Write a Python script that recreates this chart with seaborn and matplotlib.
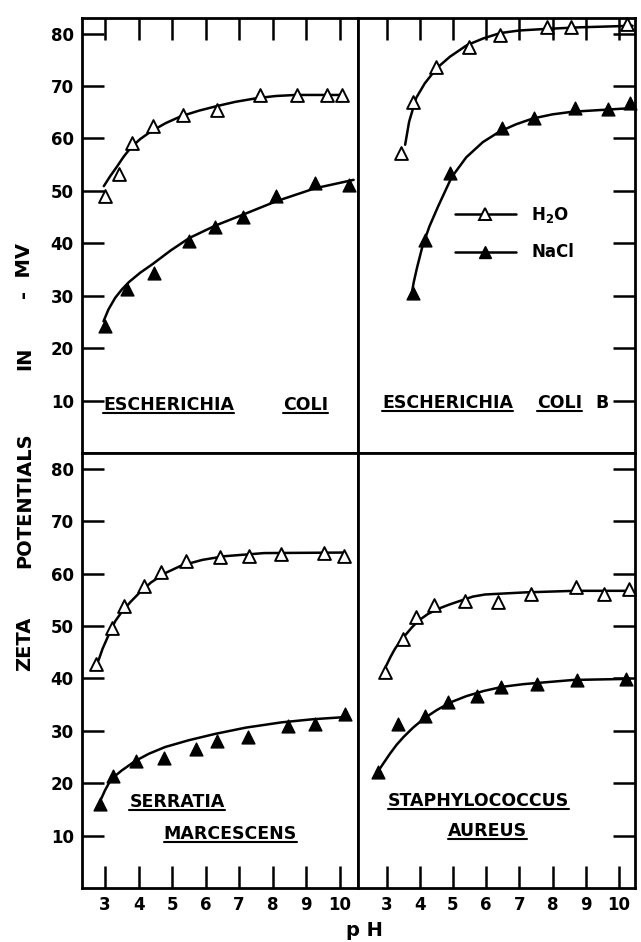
#%%
import matplotlib
matplotlib.use('Agg')
import pandas as pd
import seaborn as sns
import matplotlib.pyplot as plt
from matplotlib.lines import Line2D

ecoli_h2o_ph = [3.0, 3.41, 3.80, 4.42, 5.33, 6.33, 7.62, 8.72, 9.61, 10.08]
ecoli_h2o_mv = [49.0, 53.3, 59.1, 62.3, 64.5, 65.4, 68.2, 68.2, 68.2, 68.2]
ecoli_nacl_ph = [3.01, 3.65, 4.47, 5.50, 6.27, 7.13, 8.11, 9.28, 10.27]
ecoli_nacl_mv = [24.2, 31.2, 34.3, 40.4, 43.1, 45.1, 49.0, 51.5, 51.2]

ecolib_h2o_ph = [3.45, 3.79, 4.49, 5.47, 6.42, 7.83, 8.55, 10.24]
ecolib_h2o_mv = [57.2, 67.0, 73.7, 77.5, 79.7, 81.3, 81.3, 81.8]
ecolib_nacl_ph = [3.79, 4.16, 4.91, 6.47, 7.44, 8.68, 9.68, 10.32]
ecolib_nacl_mv = [30.5, 40.7, 53.4, 62.0, 63.9, 65.8, 65.6, 66.7]

serratia_h2o_ph = [2.74, 3.21, 3.56, 4.17, 4.67, 5.42, 6.44, 7.30, 8.24, 9.53, 10.13]
serratia_h2o_mv = [42.7, 49.7, 53.8, 57.7, 60.2, 62.3, 63.1, 63.4, 63.7, 64.0, 63.4]
serratia_nacl_ph = [2.86, 3.24, 3.91, 4.76, 5.71, 6.33, 7.26, 8.45, 9.28, 10.15]
serratia_nacl_mv = [16.0, 21.4, 24.3, 24.9, 26.5, 28.1, 28.8, 31.0, 31.3, 33.2]

staph_h2o_ph = [2.94, 3.50, 3.88, 4.42, 5.37, 6.35, 7.36, 8.70, 9.56, 10.29]
staph_h2o_mv = [41.2, 47.5, 51.7, 53.9, 54.8, 54.5, 56.1, 57.4, 56.1, 57.1]
staph_nacl_ph = [2.74, 3.36, 4.17, 4.85, 5.73, 6.45, 7.53, 8.73, 10.21]
staph_nacl_mv = [22.1, 31.3, 32.9, 35.4, 36.7, 38.3, 38.9, 39.6, 39.9]

#%% hand drawn fit curves
ecoli_h2o_fit_ph = [2.96, 3.15, 3.35, 3.55, 3.76, 4.05, 4.36, 4.8, 5.25, 5.8, 6.35, 6.9, 7.54, 8.1, 8.69, 10.12]
ecoli_h2o_fit_mv = [50.9, 52.8, 54.6, 56.5, 58.2, 59.9, 61.3, 62.9, 64.2, 65.3, 66.2, 67.0, 67.7, 68.1, 68.3, 68.3]
ecoli_nacl_fit_ph = [2.95, 3.1, 3.30, 3.5, 3.71, 4.05, 4.41, 4.95, 5.51, 6.3, 7.13, 8.10, 9.27, 10.42]
ecoli_nacl_fit_mv = [25.1, 27.4, 29.6, 31.2, 32.6, 34.4, 36.0, 38.6, 41.0, 43.4, 45.5, 48.0, 50.5, 52.1]

ecolib_h2o_fit_ph = [3.56, 3.68, 3.89, 4.15, 4.51, 4.91, 5.42, 5.92, 6.42, 7.0, 7.81, 8.8, 10.41]
ecolib_h2o_fit_mv = [58.8, 63.2, 67.7, 70.5, 73.4, 75.6, 77.8, 79.1, 80.1, 80.6, 80.9, 81.2, 81.5]
ecolib_nacl_fit_ph = [3.76, 3.82, 3.92, 4.08, 4.29, 4.55, 4.96, 5.40, 5.90, 6.40, 6.9, 7.40, 8.0, 8.60, 10.41]
ecolib_nacl_fit_mv = [30.5, 32.6, 35.4, 39.4, 43.2, 47.0, 52.6, 56.4, 59.3, 61.3, 62.7, 63.8, 64.6, 65.1, 65.8]

serratia_h2o_fit_ph = [2.80, 2.92, 3.05, 3.18, 3.31, 3.52, 3.76, 4.05, 4.37, 4.8, 5.27, 5.9, 6.56, 7.75, 10.13]
serratia_h2o_fit_mv = [43.4, 45.6, 47.5, 49.4, 51.0, 52.9, 54.6, 56.5, 58.3, 60.1, 61.5, 62.6, 63.3, 63.9, 64.0]
serratia_nacl_fit_ph = [2.88, 3.0, 3.13, 3.3, 3.49, 3.89, 4.3, 4.79, 5.5, 6.28, 7.2, 8.26, 9.2, 10.14]
serratia_nacl_fit_mv = [17.0, 18.7, 20.2, 21.4, 22.4, 24.2, 25.6, 26.9, 28.2, 29.4, 30.6, 31.6, 32.2, 32.6]

staph_h2o_fit_ph = [2.99, 3.12, 3.25, 3.4, 3.56, 3.76, 3.96, 4.25, 4.57, 4.9, 5.27, 5.6, 5.97, 7.17, 8.67, 10.37]
staph_h2o_fit_mv = [42.4, 44.1, 45.6, 47.0, 48.2, 49.7, 51.0, 52.3, 53.3, 54.1, 54.9, 55.6, 56.0, 56.4, 56.7, 56.7]
staph_nacl_fit_ph = [2.79, 2.95, 3.10, 3.3, 3.51, 3.8, 4.12, 4.5, 4.92, 5.4, 5.93, 6.5, 7.13, 8.63, 10.33]
staph_nacl_fit_mv = [22.7, 24.2, 25.6, 27.3, 28.8, 30.6, 32.3, 33.9, 35.4, 36.6, 37.6, 38.4, 38.9, 39.7, 39.9]

panel_keys = ['ecoli', 'ecolib', 'serratia', 'staph']
x_ticks = [3, 4, 5, 6, 7, 8, 9, 10]
y_ticks = [10, 20, 30, 40, 50, 60, 70, 80]

#%% long tables
def make_df(pairs):
    rows = []
    for key, medium, xs, ys in pairs:
        for x, y in zip(xs, ys):
            rows.append({'panel': key, 'medium': medium, 'ph': x, 'mv': y})
    return pd.DataFrame(rows)

points = make_df([
    ('ecoli', 'H2O', ecoli_h2o_ph, ecoli_h2o_mv),
    ('ecoli', 'NaCl', ecoli_nacl_ph, ecoli_nacl_mv),
    ('ecolib', 'H2O', ecolib_h2o_ph, ecolib_h2o_mv),
    ('ecolib', 'NaCl', ecolib_nacl_ph, ecolib_nacl_mv),
    ('serratia', 'H2O', serratia_h2o_ph, serratia_h2o_mv),
    ('serratia', 'NaCl', serratia_nacl_ph, serratia_nacl_mv),
    ('staph', 'H2O', staph_h2o_ph, staph_h2o_mv),
    ('staph', 'NaCl', staph_nacl_ph, staph_nacl_mv),
])
curves = make_df([
    ('ecoli', 'H2O', ecoli_h2o_fit_ph, ecoli_h2o_fit_mv),
    ('ecoli', 'NaCl', ecoli_nacl_fit_ph, ecoli_nacl_fit_mv),
    ('ecolib', 'H2O', ecolib_h2o_fit_ph, ecolib_h2o_fit_mv),
    ('ecolib', 'NaCl', ecolib_nacl_fit_ph, ecolib_nacl_fit_mv),
    ('serratia', 'H2O', serratia_h2o_fit_ph, serratia_h2o_fit_mv),
    ('serratia', 'NaCl', serratia_nacl_fit_ph, serratia_nacl_fit_mv),
    ('staph', 'H2O', staph_h2o_fit_ph, staph_h2o_fit_mv),
    ('staph', 'NaCl', staph_nacl_fit_ph, staph_nacl_fit_mv),
])

#%% plot
sns.set_style('ticks')
plt.rcParams['font.family'] = ['DejaVu Sans']
plt.rcParams['font.weight'] = 'bold'
plt.rcParams['mathtext.default'] = 'regular'
plt.rcParams['text.color'] = 'black'
plt.rcParams['xtick.color'] = 'black'
plt.rcParams['ytick.color'] = 'black'
plt.rcParams['axes.edgecolor'] = 'black'

fig, axes = plt.subplots(2, 2, figsize=(6.41, 9.42), dpi=100)
fig.subplots_adjust(left=0.128, right=0.99, top=0.981, bottom=0.0573, wspace=0, hspace=0)

xlims = [(2.31, 10.56), (2.15, 10.47), (2.31, 10.56), (2.15, 10.47)]

# species names (text, x, y, underlined) in data units
labels = {
    'ecoli': [('ESCHERICHIA', 2.95, 9.2, True), ('COLI', 8.3, 9.2, True)],
    'ecolib': [('ESCHERICHIA', 2.86, 9.6, True), ('COLI', 7.52, 9.6, True), ('B', 9.28, 9.6, False)],
    'serratia': [('SERRATIA', 3.72, 16.4, True), ('MARCESCENS', 4.75, 10.3, True)],
    'staph': [('STAPHYLOCOCCUS', 3.04, 16.6, True), ('AUREUS', 4.86, 10.9, True)],
}
underlined = []

for i, (ax, key) in enumerate(zip(axes.flat, panel_keys)):
    row, col = divmod(i, 2)
    c = curves[curves.panel == key]
    for med in ['H2O', 'NaCl']:
        sns.lineplot(data=c[c.medium == med], x='ph', y='mv', ax=ax, color='black',
                     lw=1.8, sort=False, estimator=None, zorder=2)
    p = points[points.panel == key]
    sns.scatterplot(data=p[p.medium == 'H2O'], x='ph', y='mv', ax=ax, marker='^', s=85,
                    color='white', edgecolor='black', linewidth=1.4, zorder=3, clip_on=False)
    sns.scatterplot(data=p[p.medium == 'NaCl'], x='ph', y='mv', ax=ax, marker='^', s=85,
                    color='black', edgecolor='black', linewidth=1.0, zorder=3, clip_on=False)

    ax.set_xlim(xlims[i])
    ax.set_ylim(0, 83)
    ax.set_xticks(x_ticks)
    ax.set_yticks(y_ticks)
    ax.set_xlabel('')
    ax.set_ylabel('')
    for s in ax.spines.values():
        s.set_linewidth(2.0)
        s.set_color('black')

    ax.tick_params(direction='in', length=16, width=1.8, labelsize=12, pad=6, colors='black')
    if row == 0:
        ax.xaxis.set_ticks_position('top')
        ax.tick_params(axis='x', labeltop=False, labelbottom=False)
    else:
        ax.xaxis.set_ticks_position('bottom')
    if col == 1:
        ax.yaxis.set_ticks_position('right')
        ax.tick_params(axis='y', labelright=False, labelleft=False)

    for txt, x, y, ul in labels[key]:
        t = ax.text(x, y, txt, fontsize=12.5, fontweight='bold', ha='left', va='center', color='black')
        if ul:
            underlined.append(t)

# legend in the E. coli B panel
handles = [
    Line2D([0], [0], color='black', lw=1.8, marker='^', ms=9, mfc='white', mec='black', mew=1.4),
    Line2D([0], [0], color='black', lw=1.8, marker='^', ms=9, mfc='black', mec='black'),
]
axes[0, 1].legend(handles, ['H$_2$O', 'NaCl'], loc='center left', bbox_to_anchor=(5.05, 41.9),
                  bbox_transform=axes[0, 1].transData, frameon=False, numpoints=1,
                  handlelength=3.7, handletextpad=0.9, labelspacing=1.1, borderpad=0,
                  borderaxespad=0, prop={'size': 12, 'weight': 'bold'})

# axis titles
for word, yc in [('ZETA', 0.317), ('POTENTIALS', 0.469), ('IN', 0.620), ('-  MV', 0.712)]:
    fig.text(0.039, yc, word, rotation=90, fontsize=14, fontweight='bold', ha='center', va='center')
fig.text(0.569, 0.0127, 'p H', fontsize=14, fontweight='bold', ha='center', va='center')

# underline the species names
fig.canvas.draw()
inv = fig.transFigure.inverted()
for t in underlined:
    bb = t.get_window_extent()
    (x0, y0), (x1, _) = inv.transform([[bb.x0, bb.y0 + 1], [bb.x1, bb.y0 + 1]])
    fig.add_artist(Line2D([x0, x1], [y0, y0], transform=fig.transFigure, color='black', lw=1.5))

fig.savefig('out.png', dpi=100)
